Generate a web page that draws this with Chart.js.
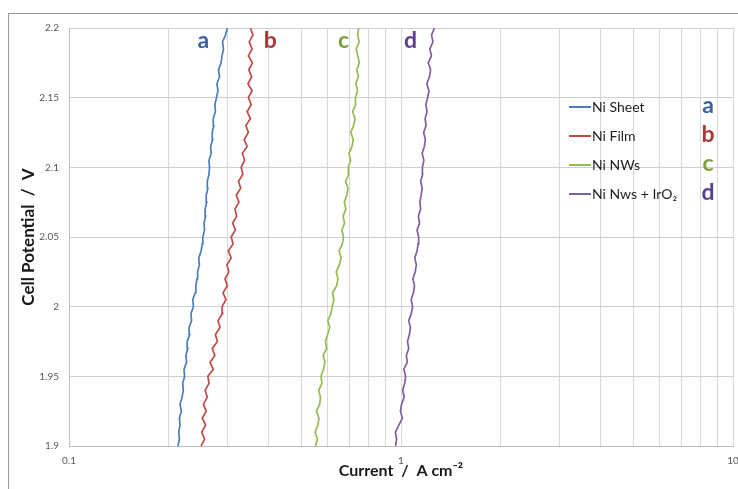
<!DOCTYPE html>
<html>
<head>
<meta charset="utf-8">
<title>Cell Potential vs Current</title>
<script src="https://cdn.jsdelivr.net/npm/chart.js@4.4.1/dist/chart.umd.min.js"></script>
<style>
    html, body { margin: 0; padding: 0; background: #fff; overflow: hidden; }
    #wrap { position: relative; width: 738px; height: 489px; overflow: hidden; }
    #frame { position: absolute; left: 8px; top: 13px; width: 760px; height: 520px; border: 1px solid #9a9a9a; box-sizing: border-box; }
    #chart { position: absolute; left: 0; top: 0; }
</style>
</head>
<body>
<div id="wrap">
    <div id="frame"></div>
    <canvas id="chart" width="738" height="489"></canvas>
</div>
<script>
// Cell potential (V), shared by every series
const potential = [
    1.900, 1.905, 1.910, 1.915, 1.920, 1.925, 1.930, 1.935, 1.940, 1.945,
    1.950, 1.955, 1.960, 1.965, 1.970, 1.975, 1.980, 1.985, 1.990, 1.995,
    2.000, 2.005, 2.010, 2.015, 2.020, 2.025, 2.030, 2.035, 2.040, 2.045,
    2.050, 2.055, 2.060, 2.065, 2.070, 2.075, 2.080, 2.085, 2.090, 2.095,
    2.100, 2.105, 2.110, 2.115, 2.120, 2.125, 2.130, 2.135, 2.140, 2.145,
    2.150, 2.155, 2.160, 2.165, 2.170, 2.175, 2.180, 2.185, 2.190, 2.195,
    2.200
];

// Current density (A cm-2)
const niSheet = [
    0.213, 0.215, 0.214, 0.216, 0.215, 0.218, 0.216, 0.219, 0.221, 0.220,
    0.223, 0.222, 0.226, 0.225, 0.228, 0.227, 0.231, 0.230, 0.234, 0.233,
    0.237, 0.236, 0.240, 0.241, 0.243, 0.244, 0.247, 0.246, 0.250, 0.252,
    0.253, 0.256, 0.255, 0.258, 0.257, 0.260, 0.259, 0.262, 0.261, 0.264,
    0.265, 0.264, 0.268, 0.267, 0.271, 0.270, 0.273, 0.272, 0.276, 0.275,
    0.278, 0.281, 0.279, 0.284, 0.282, 0.287, 0.289, 0.292, 0.290, 0.296,
    0.300
];
const niFilm = [
    0.250, 0.256, 0.251, 0.258, 0.252, 0.259, 0.254, 0.261, 0.257, 0.264,
    0.262, 0.272, 0.266, 0.275, 0.270, 0.280, 0.276, 0.285, 0.281, 0.290,
    0.289, 0.297, 0.291, 0.300, 0.295, 0.303, 0.299, 0.308, 0.302, 0.312,
    0.308, 0.317, 0.311, 0.320, 0.316, 0.325, 0.319, 0.329, 0.324, 0.334,
    0.330, 0.338, 0.333, 0.344, 0.337, 0.347, 0.341, 0.352, 0.344, 0.354,
    0.347, 0.356, 0.346, 0.355, 0.348, 0.357, 0.347, 0.356, 0.349, 0.358,
    0.352
];
const niNWs = [
    0.553, 0.560, 0.551, 0.562, 0.566, 0.556, 0.569, 0.572, 0.565, 0.578,
    0.574, 0.584, 0.590, 0.583, 0.597, 0.592, 0.601, 0.610, 0.602, 0.615,
    0.620, 0.628, 0.622, 0.640, 0.646, 0.638, 0.652, 0.660, 0.651, 0.666,
    0.671, 0.664, 0.676, 0.669, 0.682, 0.675, 0.687, 0.692, 0.681, 0.696,
    0.694, 0.705, 0.697, 0.712, 0.718, 0.706, 0.720, 0.727, 0.715, 0.730,
    0.729, 0.740, 0.731, 0.744, 0.736, 0.749, 0.741, 0.733, 0.748, 0.740,
    0.746
];
const niNWsIrO2 = [
    0.963, 0.970, 0.962, 0.985, 1.010, 0.996, 1.004, 1.022, 1.012, 1.026,
    1.033, 1.020, 1.044, 1.038, 1.055, 1.046, 1.060, 1.068, 1.055, 1.074,
    1.084, 1.073, 1.090, 1.098, 1.086, 1.104, 1.112, 1.100, 1.118, 1.126,
    1.130, 1.118, 1.137, 1.128, 1.146, 1.140, 1.150, 1.158, 1.146, 1.162,
    1.160, 1.172, 1.158, 1.176, 1.184, 1.170, 1.190, 1.182, 1.198, 1.188,
    1.203, 1.214, 1.196, 1.218, 1.228, 1.208, 1.235, 1.222, 1.248, 1.236,
    1.262
];

const seriesNames = ['Ni Sheet', 'Ni Film', 'Ni NWs', 'Ni Nws + IrO\u2082'];
const seriesLetters = ['a', 'b', 'c', 'd'];
const seriesValues = [niSheet, niFilm, niNWs, niNWsIrO2];

// Axis ticks
const xGridValues = [0.1, 0.2, 0.3, 0.4, 0.5, 0.6, 0.7, 0.8, 0.9,
                     1, 2, 3, 4, 5, 6, 7, 8, 9, 10];
const xLabelValues = [0.1, 1, 10];
const yTickValues = [1.9, 1.95, 2, 2.05, 2.1, 2.15, 2.2];

// Styles
const lineColors = ['#4a7ebb', '#be4b48', '#98b954', '#7d60a0'];
const letterColors = ['#3a62a0', '#a83a36', '#7d9e3a', '#5a4190'];
const FONT = 'Lato, "Open Sans", sans-serif';

// Where the a-d tags sit next to the curves (data units)
const tagCurrent = [0.254, 0.404, 0.671, 1.068];
const tagPotential = 2.191;

const datasets = seriesValues.map((values, i) => ({
    label: seriesNames[i],
    data: values.map((c, k) => ({ x: c, y: potential[k] })),
    showLine: true,
    borderColor: lineColors[i],
    backgroundColor: lineColors[i],
    borderWidth: 1.7,
    pointRadius: 0,
    tension: 0
}));

/**
 * Legend inside the plot plus the a-d tags
 */
const annotationPlugin = {
    id: 'annotations',
    afterDatasetsDraw(chart) {
        const ctx = chart.ctx;
        const xs = chart.scales.x;
        const ys = chart.scales.y;
        ctx.save();

        // tags at the top of each curve
        ctx.font = 'bold 23px ' + FONT;
        ctx.textAlign = 'center';
        ctx.textBaseline = 'middle';
        seriesLetters.forEach((letter, i) => {
            ctx.fillStyle = letterColors[i];
            ctx.fillText(letter, xs.getPixelForValue(tagCurrent[i]), ys.getPixelForValue(tagPotential));
        });

        // legend
        const rowY = [107, 136, 165, 194];
        seriesNames.forEach((name, i) => {
            const y = rowY[i];
            ctx.strokeStyle = lineColors[i];
            ctx.lineWidth = 2;
            ctx.beginPath();
            ctx.moveTo(569, y);
            ctx.lineTo(591, y);
            ctx.stroke();

            ctx.fillStyle = '#1e1e1e';
            ctx.font = '14px ' + FONT;
            ctx.textAlign = 'left';
            ctx.fillText(name, 592, y);

            ctx.fillStyle = letterColors[i];
            ctx.font = 'bold 23px ' + FONT;
            ctx.textAlign = 'center';
            ctx.fillText(seriesLetters[i], 708, y - 1);
        });
        ctx.restore();
    }
};

const sameValue = (a, b) => Math.abs(a - b) < 1e-9;

new Chart(document.getElementById('chart'), {
    type: 'scatter',
    data: { datasets },
    options: {
        responsive: false,
        animation: false,
        layout: { padding: { left: 0, top: 28, right: 5, bottom: 0 } },
        plugins: {
            legend: { display: false },
            tooltip: { enabled: false }
        },
        scales: {
            x: {
                type: 'logarithmic',
                min: 0.1,
                max: 10,
                afterBuildTicks: (scale) => {
                    scale.ticks = xGridValues.map(v => ({ value: v }));
                },
                afterFit: (scale) => {
                    scale.height = 43;
                    scale.paddingLeft = 0;
                    scale.paddingRight = 0;
                },
                grid: { color: '#d9d9d9', lineWidth: 1, drawTicks: false },
                border: { color: '#bdbdbd' },
                ticks: {
                    autoSkip: false,
                    maxRotation: 0,
                    padding: 9,
                    color: '#595959',
                    font: { family: FONT, size: 10 },
                    callback: (v) => xLabelValues.some(l => sameValue(l, v)) ? String(v) : ''
                },
                title: {
                    display: true,
                    text: 'Current  /  A cm\u207B\u00B2',
                    color: '#1a1a1a',
                    font: { family: FONT, size: 16, weight: 'bold' },
                    padding: { top: 0, bottom: 9 }
                }
            },
            y: {
                type: 'linear',
                min: 1.9,
                max: 2.2,
                afterBuildTicks: (scale) => {
                    scale.ticks = yTickValues.map(v => ({ value: v }));
                },
                afterFit: (scale) => {
                    scale.width = 69;
                    scale.paddingTop = 0;
                    scale.paddingBottom = 0;
                },
                grid: { color: '#cfcfcf', lineWidth: 1, drawTicks: false },
                border: { color: '#bdbdbd' },
                ticks: {
                    padding: 10,
                    color: '#595959',
                    font: { family: FONT, size: 10 },
                    callback: (v) => String(+v.toFixed(2))
                },
                title: {
                    display: true,
                    text: 'Cell Potential  /  V',
                    color: '#1a1a1a',
                    font: { family: FONT, size: 17, weight: 'bold' },
                    padding: { top: 18, bottom: 0 }
                }
            }
        }
    },
    plugins: [annotationPlugin]
});
</script>
</body>
</html>
